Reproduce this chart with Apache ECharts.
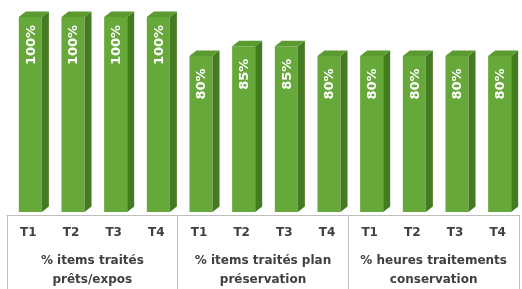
<!DOCTYPE html>
<html>
<head>
<meta charset="utf-8">
<script src="https://cdn.jsdelivr.net/npm/echarts@6/dist/echarts.min.js"></script>
<style>
  html, body { margin: 0; padding: 0; background: #fff; }
  #chart { width: 522px; height: 289px; }
</style>
</head>
<body>
<div id="chart"></div>
<script>
const quarters = ["T1", "T2", "T3", "T4", "T1", "T2", "T3", "T4", "T1", "T2", "T3", "T4"];
const groups = ["% items traités\nprêts/expos", "% items traités plan\npréservation", "% heures traitements\nconservation"];
const values = [100, 100, 100, 100, 80, 85, 85, 80, 80, 80, 80, 80];

const FRONT = "#67a83b";
const SIDE = "#437a22";
const TOP = "#5b9a31";

function renderBar(params, api) {
  const idx = api.value(0);
  const top = api.coord([idx, api.value(1)]);
  const base = api.coord([idx, 0]);
  const band = api.size([1, 0])[0];
  const w = band * 0.54;
  const dx = 7, dy = 5.5, lift = 3;
  const x0 = top[0] - w / 2 + 2;
  const x1 = x0 + w;
  const yt = top[1] - lift;
  const yb = base[1] - lift;
  return {
    type: "group",
    children: [
      { type: "rect", shape: { x: x0, y: yt, width: w, height: yb - yt }, style: { fill: FRONT } },
      { type: "polygon", shape: { points: [[x1, yt], [x1 + dx, yt - dy], [x1 + dx, yb - dy], [x1, yb]] }, style: { fill: SIDE } },
      { type: "polygon", shape: { points: [[x0, yt], [x0 + dx, yt - dy], [x1 + dx, yt - dy], [x1, yt]] }, style: { fill: TOP } },
      {
        type: "text",
        x: (x0 + x1) / 2 + 1,
        y: yt + 28,
        rotation: Math.PI / 2,
        style: {
          text: api.value(1) + "%",
          fill: "#ffffff",
          font: "bold 13px 'DejaVu Sans', sans-serif",
          align: "center",
          verticalAlign: "middle"
        }
      }
    ]
  };
}

const chart = echarts.init(document.getElementById("chart"));
chart.setOption({
  animation: false,
  grid: { left: 7, right: 3, top: 20, bottom: 73 },
  xAxis: [
    {
      type: "category",
      data: quarters,
      position: "bottom",
      axisLine: { show: true, lineStyle: { color: "#bfbfbf", width: 1 } },
      axisTick: { show: false },
      axisLabel: { interval: 0, margin: 12, color: "#404040", fontWeight: "bold", fontSize: 12, fontFamily: "'DejaVu Sans', sans-serif" }
    },
    {
      type: "category",
      data: groups,
      position: "bottom",
      axisLine: { show: false },
      axisTick: { show: true, interval: 0, length: 74, lineStyle: { color: "#bfbfbf" } },
      axisLabel: { interval: 0, hideOverlap: false, margin: 36, color: "#404040", fontWeight: "bold", fontSize: 12, lineHeight: 19, fontFamily: "'DejaVu Sans', sans-serif" }
    }
  ],
  yAxis: {
    type: "value",
    min: 0,
    max: 100,
    show: false,
    splitLine: { show: false }
  },
  series: [
    {
      type: "custom",
      xAxisIndex: 0,
      renderItem: renderBar,
      data: values.map((v, i) => [i, v])
    }
  ]
});
</script>
</body>
</html>
